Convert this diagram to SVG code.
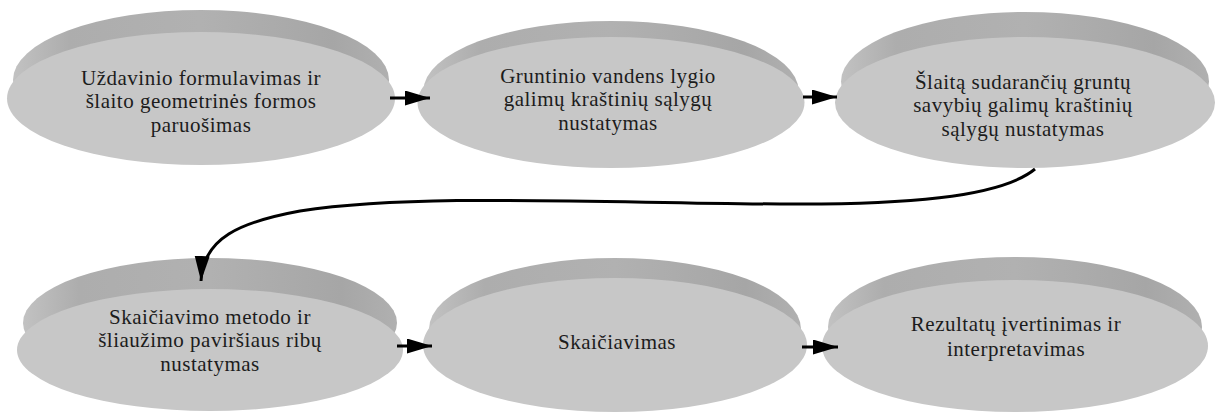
<svg xmlns="http://www.w3.org/2000/svg" width="1217" height="414" viewBox="0 0 1217 414">
  <style>
    .rim { fill: url(#rimGrad); }
    .face { fill: #c7c7c7; }
    .lbl { font-family: "Liberation Serif", "Times New Roman", "DejaVu Serif", serif; font-size: 21px; letter-spacing: 0.5px; fill: #1c1c1c; text-anchor: middle; }
    .edge { fill: none; stroke: #000; stroke-width: 3; }
  </style>
  <defs>
    <linearGradient id="rimGrad" x1="0" y1="0" x2="1" y2="0">
      <stop offset="0" stop-color="#c2c2c2"/>
      <stop offset="0.15" stop-color="#adadad"/>
      <stop offset="0.5" stop-color="#b1b1b1"/>
      <stop offset="0.85" stop-color="#a6a6a6"/>
      <stop offset="1" stop-color="#b0b0b0"/>
    </linearGradient>
    <marker id="arrow" markerUnits="userSpaceOnUse" markerWidth="26" markerHeight="16" refX="25" refY="7.5" orient="auto">
      <path d="M0,0 L25,7.5 L0,15 z" fill="#000"/>
    </marker>
  </defs>
  <rect width="1217" height="414" fill="#fff"/>

  <g id="node1">
    <ellipse class="rim" cx="201" cy="80" rx="188" ry="70"/>
    <ellipse class="face" cx="201" cy="98.5" rx="194" ry="66.5"/>
    <text class="lbl"><tspan x="201" y="84.5">Uždavinio formulavimas ir</tspan><tspan x="201" y="108">šlaito geometrinės formos</tspan><tspan x="201" y="131.5">paruošimas</tspan></text>
  </g>
  <g id="node2">
    <ellipse class="rim" cx="611" cy="90.5" rx="187.5" ry="69.5"/>
    <ellipse class="face" cx="611" cy="102.5" rx="193.5" ry="65.5"/>
    <text class="lbl"><tspan x="608" y="82.5">Gruntinio vandens lygio</tspan><tspan x="608" y="106">galimų kraštinių sąlygų</tspan><tspan x="608" y="129.5">nustatymas</tspan></text>
  </g>
  <g id="node3">
    <ellipse class="rim" cx="1025" cy="81.5" rx="184" ry="69.5"/>
    <ellipse class="face" cx="1025" cy="102.5" rx="190" ry="65.5"/>
    <text class="lbl"><tspan x="1023" y="88.5">Šlaitą sudarančių gruntų</tspan><tspan x="1023" y="112">savybių galimų kraštinių</tspan><tspan x="1023" y="135.5">sąlygų nustatymas</tspan></text>
  </g>
  <g id="node4">
    <ellipse class="rim" cx="210" cy="323" rx="187" ry="65"/>
    <ellipse class="face" cx="210" cy="350" rx="193" ry="61"/>
    <text class="lbl"><tspan x="210" y="323.5">Skaičiavimo metodo ir</tspan><tspan x="210" y="347">šliaužimo paviršiaus ribų</tspan><tspan x="210" y="370.5">nustatymas</tspan></text>
  </g>
  <g id="node5">
    <ellipse class="rim" cx="615" cy="329" rx="186" ry="71"/>
    <ellipse class="face" cx="615" cy="345" rx="192" ry="67"/>
    <text class="lbl"><tspan x="617" y="349">Skaičiavimas</tspan></text>
  </g>
  <g id="node6">
    <ellipse class="rim" cx="1015" cy="327" rx="187" ry="70"/>
    <ellipse class="face" cx="1015" cy="346" rx="193" ry="66"/>
    <text class="lbl"><tspan x="1016" y="331">Rezultatų įvertinimas ir</tspan><tspan x="1016" y="356">interpretavimas</tspan></text>
  </g>

  <g id="connectors">
    <path class="edge" d="M390,98 L430,98" marker-end="url(#arrow)"/>
    <path class="edge" d="M803,97 L837,97" marker-end="url(#arrow)"/>
    <path class="edge" d="M397,346 L432,346" marker-end="url(#arrow)"/>
    <path class="edge" d="M802,347 L838,347" marker-end="url(#arrow)"/>
    <path class="edge" d="M1035,169 C1000,198 900,205 780,204 C600,203 420,193 300,211 C240,222 203,238 201,281" marker-end="url(#arrow)"/>
  </g>
</svg>
